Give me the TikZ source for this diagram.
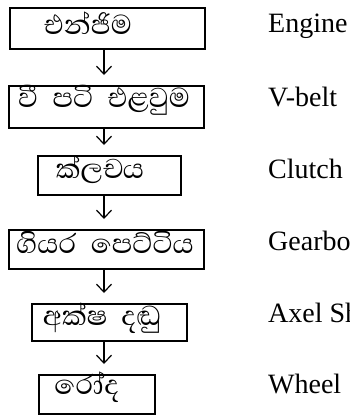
\documentclass[tikz,border=0pt]{standalone}
\usepackage{fontspec}
\setmainfont{Liberation Serif}
\newfontfamily\sinhala[Script=Sinhala,WordSpace=2.2]{Abhaya Libre}
\usetikzlibrary{arrows.meta}
\begin{document}
\begin{tikzpicture}[x=1pt,y=-1pt,
  box/.style={draw,line width=2pt,inner sep=0pt,anchor=north west},
  sin/.style={inner sep=0pt,anchor=base,font=\sinhala\fontsize{35}{37}\selectfont},
  eng/.style={inner sep=0pt,anchor=base west,font=\fontsize{28}{30}\selectfont},
  flow/.style={-{Straight Barb[length=8pt,width=15pt,line width=1.2pt]},line width=1.2pt,shorten >=10pt}]
\useasboundingbox (0,0) rectangle (350,416);
\node[box,minimum width=195pt,minimum height=41pt] (b1) at (9,7) {};
\node[box,minimum width=195pt,minimum height=42pt] (b2) at (8,85) {};
\node[box,minimum width=143pt,minimum height=39pt] (b3) at (37,155) {};
\node[box,minimum width=195pt,minimum height=39pt] (b4) at (8,229) {};
\node[box,minimum width=155pt,minimum height=37pt] (b5) at (31,303) {};
\node[box,minimum width=116pt,minimum height=39pt] (b6) at (38,374) {};
\node[sin] (s1) at (88,34) {එන්ජිම};
\node[sin] (s2) at (104,107) {වී පටි එළවුම};
\node[sin] (s3) at (100,178) {ක්ලචය};
\node[sin] (s4) at (105,253) {ගියර පෙට්ටිය};
\node[sin] (s5) at (102,325) {අක්ෂ දඬු};
\node[sin] (s6) at (87,394) {රෝද};
\coordinate (ax) at (104,0);
\foreach \a/\b in {b1/b2,b2/b3,b3/b4,b4/b5,b5/b6}
  \draw[flow] (\a.south -| ax) -- (\b.north -| ax);
\node[eng] (e1) at (268,32) {Engine};
\node[eng] (e2) at (268,106) {V-belt};
\node[eng] (e3) at (268,178) {Clutch};
\node[eng] (e4) at (268,250) {Gearbox};
\node[eng] (e5) at (268,322) {Axel Shaft};
\node[eng] (e6) at (268,393) {Wheel};
\end{tikzpicture}
\end{document}
